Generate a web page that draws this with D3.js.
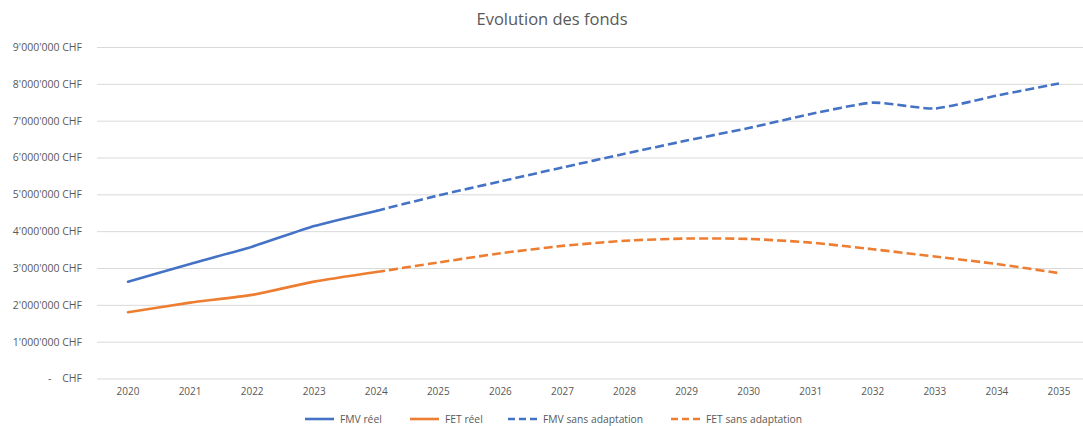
<!DOCTYPE html>
<html>
<head>
<meta charset="utf-8">
<script src="https://cdn.jsdelivr.net/npm/d3@7"></script>
<style>
  html, body { margin: 0; padding: 0; background: #fff; }
  svg { display: block; font-family: "Open Sans", "Noto Sans", sans-serif; }
</style>
</head>
<body>
<svg id="chart" width="1083" height="426"></svg>
<script>
// ---- data ----
const years = ["2020","2021","2022","2023","2024","2025","2026","2027","2028","2029","2030","2031","2032","2033","2034","2035"];
const fmvReelYears = ["2020","2021","2022","2023","2024"];
const fmvReel = [2630000, 3110000, 3580000, 4140000, 4550000];
const fetReel = [1800000, 2060000, 2270000, 2630000, 2890000];
const projYears = ["2024","2025","2026","2027","2028","2029","2030","2031","2032","2033","2034","2035"];
const fmvSans = [4550000, 4970000, 5350000, 5730000, 6100000, 6460000, 6800000, 7180000, 7490000, 7330000, 7680000, 8010000];
const fetSans = [2890000, 3150000, 3400000, 3600000, 3740000, 3800000, 3790000, 3690000, 3510000, 3310000, 3110000, 2860000];
const yTicks = [0, 1000000, 2000000, 3000000, 4000000, 5000000, 6000000, 7000000, 8000000, 9000000];
const seriesNames = ["FMV réel", "FET réel", "FMV sans adaptation", "FET sans adaptation"];
const title = "Evolution des fonds";

// ---- layout ----
const svg = d3.select("#chart");
const blue = "#4472C4", orange = "#ED7D31", textCol = "#595959", gridCol = "#d9d9d9";

const x = d3.scaleBand().domain(years).range([97, 1090]).padding(0);
const cx = d => x(d) + x.bandwidth() / 2;
const y = d3.scaleLinear().domain([0, 9000000]).range([378.5, 47]);

// title
svg.append("text")
  .attr("x", 552).attr("y", 25)
  .attr("text-anchor", "middle")
  .attr("fill", textCol)
  .attr("font-size", 16.5)
  .text(title);

// grid lines
const grid = svg.append("g")
  .attr("transform", "translate(97,0)")
  .call(d3.axisLeft(y).tickValues(yTicks).tickSize(-(1090 - 97)).tickFormat(""));
grid.select(".domain").remove();
grid.selectAll(".tick line").attr("stroke", gridCol).attr("stroke-width", 1);

// y labels
const fmtNum = v => {
  if (v === 0) return "-    CHF";
  return d3.format(",")(v).replace(/,/g, "'") + " CHF";
};
const yAxis = svg.append("g")
  .attr("transform", "translate(82,0)")
  .call(d3.axisLeft(y).tickValues(yTicks).tickSize(0).tickPadding(0).tickFormat(fmtNum));
yAxis.select(".domain").remove();
yAxis.selectAll("text")
  .attr("fill", textCol)
  .attr("font-size", 10.5)
  .attr("font-family", "Open Sans, sans-serif")
  .style("white-space", "pre");

// x labels
const xAxis = svg.append("g")
  .attr("transform", "translate(0,378.5)")
  .call(d3.axisBottom(x).tickSize(0).tickPadding(9));
xAxis.select(".domain").remove();
xAxis.selectAll("text")
  .attr("fill", textCol)
  .attr("font-size", 10)
  .attr("font-family", "Open Sans, sans-serif");

// lines
const curve = d3.curveCardinal.tension(0.45);
const makeLine = (yrs) => d3.line().x((d, i) => cx(yrs[i])).y(d => y(d)).curve(curve);

const series = [
  { vals: fetSans, yrs: projYears, color: orange, dash: "9,4" },
  { vals: fmvSans, yrs: projYears, color: blue, dash: "9,4" },
  { vals: fetReel, yrs: fmvReelYears, color: orange, dash: null },
  { vals: fmvReel, yrs: fmvReelYears, color: blue, dash: null }
];
series.forEach(s => {
  svg.append("path")
    .datum(s.vals)
    .attr("d", makeLine(s.yrs))
    .attr("fill", "none")
    .attr("stroke", s.color)
    .attr("stroke-width", 2.6)
    .attr("stroke-linecap", s.dash ? "butt" : "round")
    .attr("stroke-dasharray", s.dash);
});

// legend
const legendItems = [
  { name: seriesNames[0], color: blue, dash: null, x0: 305 },
  { name: seriesNames[1], color: orange, dash: null, x0: 410 },
  { name: seriesNames[2], color: blue, dash: "7,4", x0: 508 },
  { name: seriesNames[3], color: orange, dash: "7,4", x0: 671 }
];
const lg = svg.append("g");
legendItems.forEach(it => {
  lg.append("line")
    .attr("x1", it.x0).attr("x2", it.x0 + 29)
    .attr("y1", 419).attr("y2", 419)
    .attr("stroke", it.color)
    .attr("stroke-width", 2.6)
    .attr("stroke-dasharray", it.dash);
  lg.append("text")
    .attr("x", it.x0 + 35).attr("y", 422.5)
    .attr("fill", textCol)
    .attr("font-size", 10.3)
    .text(it.name);
});
</script>
</body>
</html>
